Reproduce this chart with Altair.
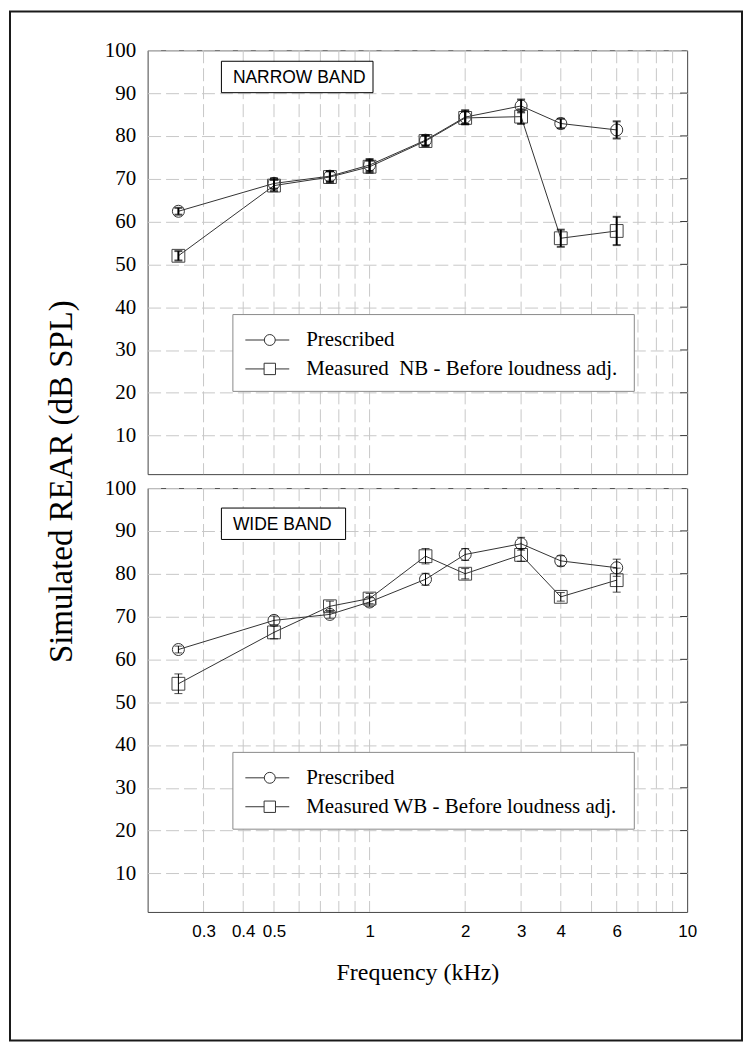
import altair as alt
import pandas as pd

# ---------------- data ----------------
freq_khz = [0.25, 0.5, 0.75, 1, 1.5, 2, 3, 4, 6]

nb_prescribed = [62.4, 68.9, 70.6, 73.2, 79.0, 84.4, 87.0, 82.9, 81.4]
nb_prescribed_err = [0.8, 1.2, 1.2, 1.4, 1.2, 1.6, 1.5, 1.1, 2.0]
nb_measured = [52.0, 68.4, 70.4, 72.8, 78.8, 84.2, 84.5, 56.1, 57.8]
nb_measured_err = [1.1, 1.3, 1.3, 1.4, 1.2, 1.5, 1.7, 2.0, 3.3]

wb_prescribed = [62.3, 69.1, 70.5, 73.4, 78.7, 84.5, 87.0, 83.0, 81.4]
wb_prescribed_err = [0.8, 1.0, 0.9, 1.0, 1.4, 1.4, 1.5, 1.2, 2.0]
wb_measured = [54.3, 66.3, 72.4, 74.2, 84.1, 80.0, 84.4, 74.6, 78.5]
wb_measured_err = [2.3, 1.5, 1.2, 1.2, 1.8, 1.2, 1.5, 1.0, 2.8]

x_grid = [0.3, 0.4, 0.5, 0.6, 0.7, 0.8, 0.9, 1, 2, 3, 4, 5, 6, 7, 8, 9]
x_label_values = [0.3, 0.4, 0.5, 1, 2, 3, 4, 6, 10]
y_ticks = [10, 20, 30, 40, 50, 60, 70, 80, 90, 100]

series_names = ["Prescribed", "Measured"]

# ---------------- layout ----------------
W, H = 541, 425
GRID = "#c8c8c8"
DARK = "#333333"
SERIF = "Liberation Serif"
SANS = "Liberation Sans"

xscale = alt.Scale(type="log", domain=[0.2, 10], nice=False)
yscale = alt.Scale(domain=[1, 100], nice=False, zero=False)

yaxis = alt.Axis(values=y_ticks, title=None, grid=True, gridDash=[13, 5],
                 gridColor=GRID, gridWidth=1, ticks=False, tickSize=0,
                 domain=False, labelPadding=12, labelFont=SERIF,
                 labelFontSize=21, labelColor="black")

one = pd.DataFrame({"a": [0]})


def panel(pres, pres_err, meas, meas_err, band_label, box_w, box_y,
          legend_label, err_width, show_x, extras=()):
    if show_x:
        xaxis = alt.Axis(values=x_label_values, format="~g",
                         title="Frequency (kHz)", grid=False, ticks=False,
                         tickSize=0, domain=False, labelPadding=12,
                         labelFont=SANS, labelFontSize=17, labelColor="black",
                         labelOverlap=False, labelFlush=False,
                         titleFont=SERIF, titleFontSize=24,
                         titleFontWeight="normal", titleColor="black",
                         titlePadding=21)
    else:
        xaxis = None

    rows = []
    for name, vals, errs in ((series_names[0], pres, pres_err),
                             (series_names[1], meas, meas_err)):
        for f, v, e in zip(freq_khz, vals, errs):
            rows.append({"series": name, "f": f, "v": v,
                         "lo": v - e, "hi": v + e})
    df = pd.DataFrame(rows)
    base = alt.Chart(df)

    X = lambda fld: alt.X(fld, scale=xscale, axis=xaxis)
    Y = lambda fld: alt.Y(fld, scale=yscale, axis=yaxis)

    vgrid = alt.Chart(pd.DataFrame({"gx": x_grid})).mark_rule(
        color=GRID, strokeDash=[13, 5], strokeWidth=1
    ).encode(x=X("gx:Q"))

    rticks = alt.Chart(pd.DataFrame({"gy": y_ticks[:-1]})).mark_rule(
        color=DARK, strokeWidth=1
    ).encode(y=Y("gy:Q"), x=alt.value(W - 7), x2=alt.value(W))

    box_rect = alt.Chart(one).mark_rect(
        fill="white", stroke="black", strokeWidth=1
    ).encode(x=alt.value(74), x2=alt.value(74 + box_w),
             y=alt.value(box_y), y2=alt.value(box_y + 31.5))
    box_text = alt.Chart(one).mark_text(
        text=band_label, align="left", baseline="middle", font=SANS,
        fontSize=17.5, color="black"
    ).encode(x=alt.value(85.5), y=alt.value(box_y + 16.7))

    # legend box
    leg_rect = alt.Chart(one).mark_rect(
        fill="white", stroke="#8a8a8a", strokeWidth=1
    ).encode(x=alt.value(85.5), x2=alt.value(488),
             y=alt.value(265), y2=alt.value(342))
    leg_rows = []
    for yy in (290.5, 319.5):
        leg_rows.append(alt.Chart(one).mark_rule(color=DARK, strokeWidth=1).encode(
            x=alt.value(98), x2=alt.value(142), y=alt.value(yy)))
    leg_c = alt.Chart(one).mark_point(
        shape="circle", size=120, filled=False, color=DARK, strokeWidth=1,
        opacity=1, fill="white", fillOpacity=1
    ).encode(x=alt.value(122.5), y=alt.value(290.5))
    leg_s = alt.Chart(one).mark_point(
        shape="square", size=130, filled=False, color=DARK, strokeWidth=1,
        opacity=1, fill="white", fillOpacity=1
    ).encode(x=alt.value(122.5), y=alt.value(319.5))
    leg_t1 = alt.Chart(one).mark_text(
        text="Prescribed", align="left", baseline="middle", font=SERIF,
        fontSize=21, color="black"
    ).encode(x=alt.value(159), y=alt.value(291))
    leg_t2 = alt.Chart(one).mark_text(
        text=legend_label, align="left", baseline="middle", font=SERIF,
        fontSize=21, color="black"
    ).encode(x=alt.value(159), y=alt.value(320))

    lines = base.mark_line(color=DARK, strokeWidth=1).encode(
        x=X("f:Q"), y=Y("v:Q"), detail="series:N")
    circles = base.transform_filter(alt.datum.series == "Prescribed").mark_point(
        shape="circle", size=145, filled=False, color=DARK, strokeWidth=1,
        opacity=1
    ).encode(x=X("f:Q"), y=Y("v:Q"))
    squares = base.transform_filter(alt.datum.series == "Measured").mark_point(
        shape="square", size=165, filled=False, color="#444444", strokeWidth=1,
        opacity=1
    ).encode(x=X("f:Q"), y=Y("v:Q"))
    errs = base.mark_errorbar(
        ticks=True, size=8, thickness=err_width, color="black"
    ).encode(x=X("f:Q"), y=Y("lo:Q"), y2="hi:Q")

    layers = [vgrid, rticks, box_rect, box_text, leg_rect] + leg_rows + [
        leg_c, leg_s, leg_t1, leg_t2, lines, circles, squares, errs] + list(extras)
    return alt.layer(*layers).properties(width=W, height=H)


# outer frame and shared y-axis title (positioned relative to the top panel)
frame = alt.Chart(one).mark_rect(
    fill=None, stroke="#1a1a1a", strokeWidth=2
).encode(x=alt.value(-138), x2=alt.value(596), y=alt.value(-39), y2=alt.value(993))
ytitle = alt.Chart(one).mark_text(
    text="Simulated REAR (dB SPL)", angle=270, align="center",
    baseline="alphabetic", font=SERIF, fontSize=33, color="black"
).encode(x=alt.value(-76), y=alt.value(432.5))

top = panel(nb_prescribed, nb_prescribed_err, nb_measured, nb_measured_err,
            "NARROW BAND", 152, 11, "Measured\u00a0 NB - Before loudness adj.",
            2, False, extras=(frame, ytitle))
bottom = panel(wb_prescribed, wb_prescribed_err, wb_measured, wb_measured_err,
               "WIDE BAND", 124.5, 20, "Measured WB - Before loudness adj.",
               1, True)

chart = alt.VConcatChart(vconcat=[top, bottom], spacing=14, bounds="flush",
                         padding=0).configure_view(stroke="#444444",
                                                   strokeWidth=1)

chart.save("out.html", embed_options={"renderer": "svg", "actions": False})
